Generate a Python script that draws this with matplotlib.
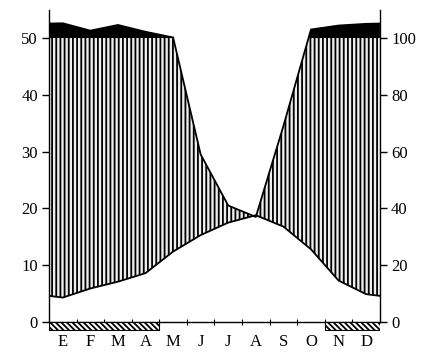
import matplotlib
matplotlib.use("Agg")
import matplotlib.pyplot as plt
import numpy as np

# Klimadiagramm: Monatsmittel Temperatur (°C) und Niederschlag (mm)
months = ["E", "F", "M", "A", "M", "J", "J", "A", "S", "O", "N", "D"]
temp = [4.3, 5.9, 7.1, 8.6, 12.4, 15.3, 17.5, 18.8, 16.8, 12.8, 7.3, 4.9]
precip = [152, 126, 146, 122, 102, 59, 41, 37, 69, 130, 144, 150]
frost = [1, 1, 1, 1, 0, 0, 0, 0, 0, 0, 1, 1]   # Monate mit Frostgefahr

plt.rcParams['font.family'] = ['Liberation Serif', 'DejaVu Serif']
plt.rcParams['hatch.color'] = 'black'
plt.rcParams['hatch.linewidth'] = 1.3


def scale_precip(p):
    # 20 mm = 10 °C bis 100 mm, darüber 1/10 Maßstab
    p = np.asarray(p, dtype=float)
    return np.where(p <= 100, p / 2, 50 + (p - 100) / 20)


# Monatsmitten, Ränder mit dem Mittel aus Dez/Jan
xs = np.concatenate([[0], np.arange(12) + 0.5, [12]])
t_edge = (temp[0] + temp[-1]) / 2
p_edge = (precip[0] + precip[-1]) / 2
ts = np.array([t_edge] + temp + [t_edge])
ps = scale_precip([p_edge] + precip + [p_edge])

fig = plt.figure(figsize=(4.21, 3.53), dpi=100)
ax = fig.add_axes([0.1164, 0.0637, 0.786, 0.909])
ax.set_xlim(0, 12)
ax.set_ylim(-1.5, 55)

# humide Zeit: senkrecht schraffiert
ax.fill_between(xs, ts, ps, where=ps >= ts, interpolate=True,
                facecolor='#eeeeee', edgecolor='black', hatch='||||', linewidth=0, zorder=1)
# aride Zeit: punktiert
ax.fill_between(xs, ps, ts, where=ts > ps, interpolate=True,
                facecolor='white', edgecolor='black', hatch='....', linewidth=0, zorder=1)
# Niederschlag über 100 mm: schwarz
ax.fill_between(xs, 50, ps, where=ps > 50, interpolate=True,
                color='black', linewidth=0, zorder=2)

ax.plot(xs, ts, color='black', lw=1.3, zorder=3)
ax.plot(xs, ps, color='black', lw=1.3, zorder=3)

# Frostmonate als Balken unter der Nulllinie
runs = []
start = None
for i, f in enumerate(frost + [0]):
    if f and start is None:
        start = i
    if not f and start is not None:
        runs.append((start, i - start))
        start = None
ax.broken_barh(runs, (-1.45, 1.45), facecolors='white', edgecolor='black',
               hatch='\\\\\\\\\\\\', linewidth=0.8, zorder=4)

# Achsen
ax.spines['top'].set_visible(False)
ax.spines['right'].set_visible(False)
ax.spines['bottom'].set_position(('data', 0))
ax.spines['left'].set_bounds(0, 55)
for s in ['left', 'bottom']:
    ax.spines[s].set_linewidth(1.0)

ax.set_yticks(range(0, 51, 10))
ax.tick_params(axis='y', direction='out', length=5, width=1.0, pad=3, labelsize=12)

ax.set_xticks(np.arange(12) + 0.5)
ax.set_xticklabels(months)
ax.set_xticks(np.arange(1, 12), minor=True)
ax.tick_params(axis='x', which='major', length=0, pad=9, labelsize=12)
ax.tick_params(axis='x', which='minor', direction='inout', length=4, width=0.8)

ax2 = ax.twinx()
ax2.set_ylim(-3, 110)
ax2.set_yticks(range(0, 101, 20))
for s in ['top', 'left', 'bottom']:
    ax2.spines[s].set_visible(False)
ax2.spines['right'].set_bounds(0, 110)
ax2.spines['right'].set_linewidth(1.0)
ax2.tick_params(axis='y', direction='out', length=5, width=1.0, pad=3, labelsize=12)

fig.savefig("out.png", dpi=100)
